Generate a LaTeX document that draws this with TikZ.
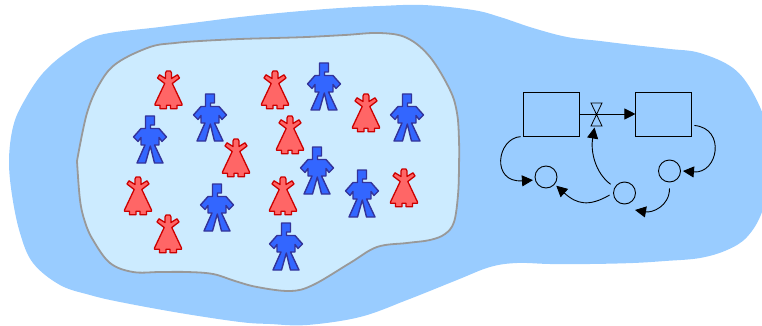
\documentclass[tikz,border=0pt]{standalone}
\usepackage{amsmath}
\usepackage{tikz}
\usetikzlibrary{positioning,arrows.meta}

\definecolor{landblue}{HTML}{99CCFF}
\definecolor{crowdblue}{HTML}{CCEBFF}
\definecolor{edgegray}{HTML}{999999}
\definecolor{manfill}{HTML}{3366FF}
\definecolor{manline}{HTML}{333399}
\definecolor{womanfill}{HTML}{FF6666}
\definecolor{womanline}{HTML}{CC0000}

\begin{document}
\begin{tikzpicture}[
  x=1pt, y=-1pt,
  stock/.style={draw, minimum width=56pt, minimum height=44pt, inner sep=0pt, line width=0.9pt},
  aux/.style={draw, circle, minimum size=22pt, inner sep=0pt, line width=0.9pt},
  arr/.style={-{Triangle[length=11pt,width=11pt]}, line width=0.9pt},
  man/.pic={
    \draw[fill=manfill, draw=manline, line width=1.4pt, line join=round]
      (-4.5,0) -- (4.5,0) -- (4.5,9) -- (0.5,9) -- (0.5,12.5) -- (9,12.5) -- (16.5,21)
      -- (12,25.5) -- (9,21.5) -- (9,29) -- (4.5,29) -- (13,47) -- (4.5,47) -- (0.3,30)
      -- (-4.5,47) -- (-13,47) -- (-5,29) -- (-9,29) -- (-9,21.5) -- (-12,25.5)
      -- (-16.5,21) -- (-9,12.5) -- (-4.5,12.5) -- cycle;
  },
  woman/.pic={
    \draw[fill=womanfill, draw=womanline, line width=1.3pt, line join=round]
      (-2,0) -- (2,0) -- (3,2) -- (3,7.5) -- (9,3.8) -- (11,7) -- (3.8,12.5)
      -- (13.5,33) -- (13.5,34.3) -- (8.5,34.3) -- (8.5,37.7) -- (2,37.7) -- (2,34.3)
      -- (-2,34.3) -- (-2,37.7) -- (-8.5,37.7) -- (-8.5,34.3) -- (-13.5,34.3)
      -- (-13.5,33) -- (-3.8,12.5) -- (-11,7) -- (-9,3.8) -- (-3,7.5) -- (-3,2) -- cycle;
  }
]
  \useasboundingbox (0,0) rectangle (762,326);
  \clip (0,0) rectangle (762,326);

  % Regions
  \fill[landblue] plot[smooth cycle, tension=0.6] coordinates {
    (9,160) (13,127) (23,103) (43,73) (70,50) (100,35) (160,27) (200,22) (240,17) (290,12)
    (340,8) (380,6) (423,5) (473,10) (500,17) (533,28) (567,37) (600,41) (633,45) (670,49)
    (700,53) (733,68) (753,93) (768,130) (772,170) (762,212) (747,237) (727,250) (700,258)
    (665,261) (633,263) (590,264) (550,264) (517,263) (490,267) (457,280) (407,300) (360,317)
    (307,325) (270,324) (240,322) (180,313) (120,302) (90,295) (60,285) (33,263) (20,233) (12,195)};
  \draw[draw=edgegray, fill=crowdblue, line width=1.8pt] plot[smooth, tension=0.6] coordinates {
    (77,161) (87,113) (100,83) (117,63) (150,47) (175,43) (200,41) (240,39) (275,38) (307,37)
    (345,35) (380,33) (407,38) (430,57) (450,90) (457,113) (459,140) (459,167) (458,195)
    (454,222) (445,234) (430,240) (407,243) (377,247) (350,263) (313,285) (290,291) (257,287) (235,281)
    (213,274) (187,272) (160,272) (133,272) (110,263) (93,240) (85,222) (80,200) (77,161)} -- cycle;

  % Crowd
  \foreach \px/\py in {150/116, 210/94, 324/63, 407/94, 317/147, 362/170, 217/184, 286/223}
    \pic at (\px,\py) {man};
  \foreach \px/\py in {168.5/71, 236/139, 138/177, 168/215, 275/71, 290/116, 366/94, 283/177, 404/169}
    \pic at (\px,\py) {woman};

  % Stocks and flow
  \node[stock] (stockA) at (551,114) {};
  \node[stock, right=56pt of stockA] (stockB) {};
  \coordinate (valve) at (596.5,114.5);
  \draw[arr] (stockA) -- (stockB);
  \draw[line width=0.8pt] ([shift={(-5.5,-11.5)}]valve) -- ([shift={(5.5,-11.5)}]valve)
    -- ([shift={(-5.5,11.5)}]valve) -- ([shift={(5.5,11.5)}]valve) -- cycle;

  % Auxiliaries
  \node[aux] (auxA) at (546,177) {};
  \node[aux] (auxB) at (669.5,171) {};
  \node[aux] (auxC) at (624.5,193) {};
  \coordinate (loose) at (635,210);

  % Links
  \draw[arr, shorten <=2pt, shorten >=2pt] (stockA.south west) .. controls +(-26,2) and +(-44,3) .. (auxA.195);
  \draw[arr] ([shift={(2,-11)}]stockB.south east) .. controls +(32,3) and +(35,3) .. ([xshift=2pt]auxB.east);
  \draw[arr, shorten <=6pt] (auxB.south) .. controls +(0,24) and +(17,3) .. (loose);
  \draw[arr, shorten <=4pt, shorten >=2pt] (auxC.west) .. controls +(-24,14) and +(22,20) .. (auxA.-40);
  \draw[arr, shorten <=5pt] (auxC.150) .. controls +(-20,-15) and +(-4,23) .. ([shift={(-2,13)}]valve);
\end{tikzpicture}
\end{document}
